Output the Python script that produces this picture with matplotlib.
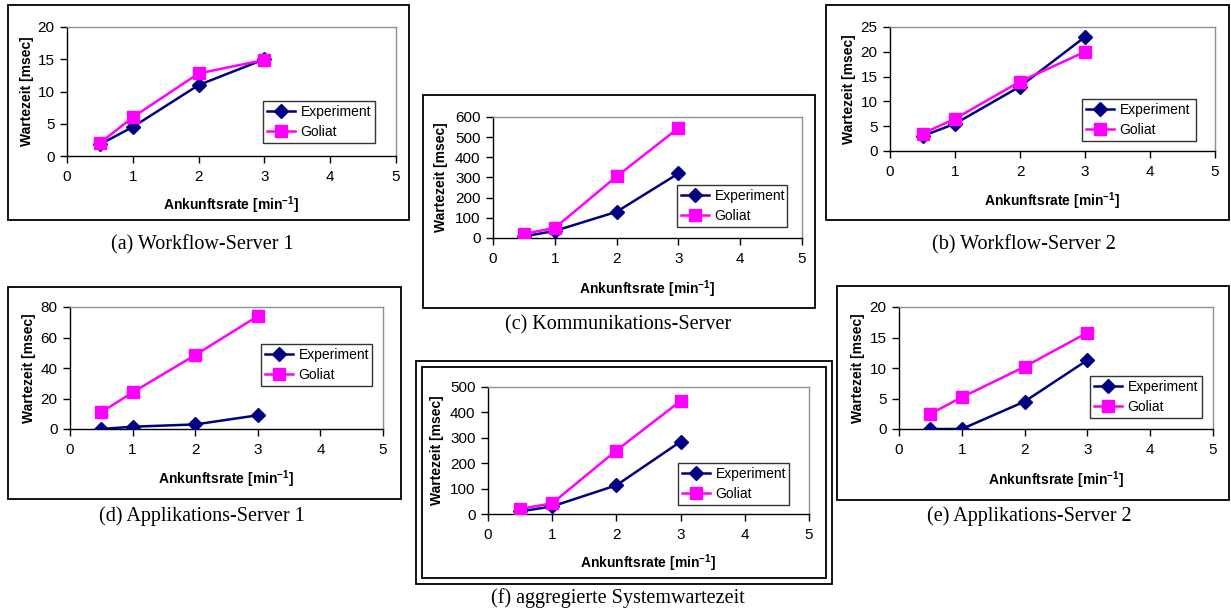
import matplotlib
matplotlib.use("Agg")
import matplotlib.pyplot as plt
from matplotlib.patches import Rectangle

plt.rcParams['font.family'] = ['Liberation Sans', 'DejaVu Sans']
plt.rcParams['mathtext.fontset'] = 'custom'
plt.rcParams['mathtext.bf'] = 'Liberation Sans:bold'
plt.rcParams['mathtext.rm'] = 'Liberation Sans'

W, H = 1231, 612

x_vals = [0.5, 1, 2, 3]
series_names = ["Experiment", "Goliat"]

# (a) Workflow-Server 1
a_exp = [1.8, 4.5, 11.0, 15.0]
a_gol = [2.0, 6.0, 12.8, 14.9]
# (b) Workflow-Server 2
b_exp = [3.0, 5.5, 13.0, 23.0]
b_gol = [3.5, 6.5, 14.0, 20.0]
# (c) Kommunikations-Server
c_exp = [8, 35, 130, 320]
c_gol = [20, 50, 305, 545]
# (d) Applikations-Server 1
d_exp = [0.0, 1.5, 3.0, 9.0]
d_gol = [11.0, 24.0, 48.5, 74.0]
# (e) Applikations-Server 2
e_exp = [0.0, 0.0, 4.5, 11.3]
e_gol = [2.5, 5.2, 10.2, 15.8]
# (f) aggregierte Systemwartezeit
f_exp = [10, 30, 113, 285]
f_gol = [20, 42, 250, 445]

captions = ["(a) Workflow-Server 1", "(b) Workflow-Server 2", "(c) Kommunikations-Server",
            "(d) Applikations-Server 1", "(e) Applikations-Server 2", "(f) aggregierte Systemwartezeit"]
y_ticks = {
    'a': [0, 5, 10, 15, 20],
    'b': [0, 5, 10, 15, 20, 25],
    'c': [0, 100, 200, 300, 400, 500, 600],
    'd': [0, 20, 40, 60, 80],
    'e': [0, 5, 10, 15, 20],
    'f': [0, 100, 200, 300, 400, 500],
}
x_ticks = [0, 1, 2, 3, 4, 5]

NAVY = '#000080'
MAG = '#FF00FF'

fig = plt.figure(figsize=(W / 100, H / 100), dpi=100)


def fx(px):
    return px / W


def fy(py):
    return 1 - py / H


def frame(l, t, r, b, lw=1.3):
    fig.add_artist(Rectangle((fx(l), fy(b)), fx(r) - fx(l), fy(t) - fy(b),
                             transform=fig.transFigure, fill=False, ec='black', lw=lw))


def panel(key, exp, gol, plot_px, frame_px, legend_px, cap, cap_px, ylabx, xlaby):
    l, t, r, b = plot_px
    ax = fig.add_axes([fx(l), fy(b), fx(r) - fx(l), fy(t) - fy(b)])
    ax.plot(x_vals, exp, color=NAVY, lw=1.8, marker='D', ms=7, label=series_names[0], zorder=3)
    ax.plot(x_vals, gol, color=MAG, lw=1.8, marker='s', ms=9, label=series_names[1], zorder=4)
    ax.set_xlim(0, 5)
    yt = y_ticks[key]
    ax.set_ylim(yt[0], yt[-1])
    ax.set_xticks(x_ticks)
    ax.set_yticks(yt)
    ax.tick_params(direction='out', length=5, width=1, labelsize=11, color='black')
    ax.tick_params(axis='x', pad=5)
    ax.tick_params(axis='y', pad=4)
    for s in ['top', 'right']:
        ax.spines[s].set_color('#909090')
        ax.spines[s].set_linewidth(1)
    for s in ['left', 'bottom']:
        ax.spines[s].set_color('black')
        ax.spines[s].set_linewidth(1)
    ax.set_ylabel("Wartezeit [msec]", fontsize=10, fontweight='bold')
    ax.set_xlabel(r"Ankunftsrate [min$^{\mathbf{-1}}$]", fontsize=10, fontweight='bold')
    ax.yaxis.set_label_coords(fx(ylabx), fy((t + b) / 2), transform=fig.transFigure)
    ax.xaxis.set_label_coords(fx((l + r) / 2), fy(xlaby), transform=fig.transFigure)
    ax.xaxis.label.set_va('center')
    ax.yaxis.label.set_va('center')
    ll, lt, lr, lb = legend_px
    leg = ax.legend(loc='upper left', bbox_to_anchor=(fx(ll), fy(lb), fx(lr) - fx(ll), fy(lt) - fy(lb)),
                    bbox_transform=fig.transFigure, mode='expand', fontsize=10, frameon=True,
                    fancybox=False, borderpad=0.3, labelspacing=0.4, handlelength=2.0,
                    handletextpad=0.4, borderaxespad=0)
    leg.get_frame().set_edgecolor('black')
    leg.get_frame().set_linewidth(1)
    fl, ft, fr, fb = frame_px
    frame(fl, ft, fr, fb)
    fig.text(fx(cap_px[0]), fy(cap_px[1]), cap, ha='center', va='center',
             fontsize=14.5, family=['Liberation Serif', 'DejaVu Serif'])
    return ax


panel('a', a_exp, a_gol, (67, 27, 396, 156), (8, 5, 409, 220), (263, 101, 375, 142),
      captions[0], (202, 245), 27, 205)
panel('b', b_exp, b_gol, (890, 27, 1215, 151), (826, 5, 1229, 220), (1082, 99, 1196, 142),
      captions[1], (1024, 245), 849, 201)
panel('c', c_exp, c_gol, (493, 117, 802, 238), (423, 95, 815, 308), (677, 185, 787, 226),
      captions[2], (618, 325), 441, 289)
panel('d', d_exp, d_gol, (70, 307, 383, 429), (8, 287, 401, 499), (261, 344, 372, 386),
      captions[3], (202, 516), 29, 479)
panel('e', e_exp, e_gol, (899, 307, 1213, 429), (837, 286, 1229, 500), (1090, 376, 1202, 418),
      captions[4], (1029, 516), 858, 480)
panel('f', f_exp, f_gol, (488, 387, 809, 514), (422, 367, 826, 578), (678, 463, 789, 503),
      captions[5], (618, 598), 437, 563)
frame(416, 361, 832, 584)

fig.savefig("out.png", dpi=100)
